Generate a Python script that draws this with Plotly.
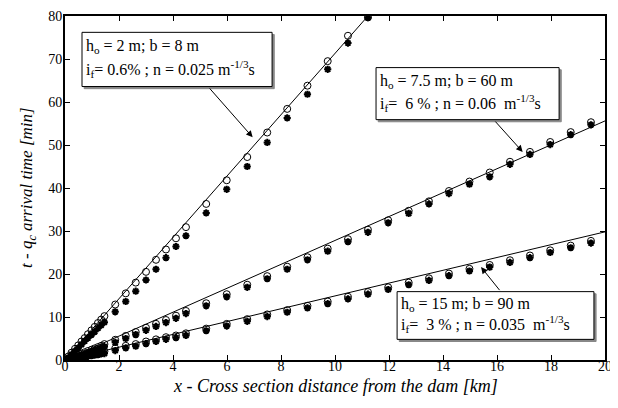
import plotly.graph_objects as go

# ---------------- data ----------------
x_sections = [0, 0.12, 0.24, 0.37, 0.49, 0.61, 0.73, 0.85, 0.98, 1.1, 1.22, 1.34, 1.46,
              1.86, 2.25, 2.62, 3.0, 3.37, 3.74, 4.11, 4.48, 5.23, 5.99, 6.75, 7.49,
              8.23, 8.98, 9.73, 10.48, 11.22, 11.97, 12.73, 13.48, 14.22, 14.98, 15.73,
              16.48, 17.22, 17.97, 18.73, 19.48]

# case 1: h0 = 2 m (only up to 11.22 km visible)
c1_circle = [0, 0.8, 1.7, 2.6, 3.4, 4.3, 5.1, 6.0, 6.9, 7.7, 8.6, 9.4, 10.2,
             12.9, 15.5, 18.0, 20.5, 23.3, 25.7, 28.3, 30.9, 36.3, 41.8, 47.2, 52.9,
             58.4, 63.8, 69.5, 75.4, 79.7]
c1_star = [0, 0.5, 1.3, 2.1, 2.8, 3.6, 4.4, 5.1, 5.9, 6.6, 7.4, 8.1, 8.8,
           11.2, 13.6, 16.0, 18.6, 21.1, 23.8, 26.4, 28.9, 34.2, 39.7, 45.0, 50.6,
           56.3, 61.8, 67.6, 73.7, 79.6]

# case 2: h0 = 7.5 m
c2_circle = [0, 0.3, 0.6, 0.9, 1.2, 1.5, 1.8, 2.1, 2.4, 2.7, 3.0, 3.3, 3.7,
             4.7, 5.6, 6.5, 7.5, 8.4, 9.3, 10.3, 11.4, 13.2, 15.3, 17.5, 19.5,
             21.7, 23.9, 25.9, 28.1, 30.3, 32.5, 34.7, 36.9, 39.3, 41.5, 43.6,
             46.1, 48.4, 50.7, 53.0, 55.3]
c2_star = [0, 0.2, 0.4, 0.7, 0.9, 1.2, 1.4, 1.7, 2.0, 2.2, 2.5, 2.8, 3.1,
           4.1, 5.0, 5.9, 6.9, 7.8, 8.7, 9.7, 10.8, 12.6, 14.7, 16.9, 18.9,
           21.1, 23.3, 25.3, 27.5, 29.7, 31.9, 34.1, 36.3, 38.7, 40.9, 42.6,
           45.5, 47.8, 50.1, 52.4, 54.7]

# case 3: h0 = 15 m
c3_circle = [0, 0.17, 0.34, 0.5, 0.67, 0.84, 1.0, 1.17, 1.34, 1.5, 1.67, 1.84, 2.0,
             2.7, 3.3, 3.7, 4.3, 4.8, 5.3, 5.7, 6.2, 7.3, 8.4, 9.5, 10.6,
             11.6, 12.6, 13.6, 14.7, 15.8, 16.9, 18.0, 19.0, 20.1, 21.2, 22.1,
             23.2, 24.3, 25.5, 26.6, 27.7]
c3_star = [0, 0.1, 0.2, 0.3, 0.45, 0.6, 0.7, 0.85, 1.0, 1.1, 1.25, 1.4, 1.5,
           2.2, 2.8, 3.2, 3.8, 4.3, 4.8, 5.2, 5.7, 6.8, 7.9, 9.0, 10.1,
           11.1, 12.1, 13.1, 14.2, 15.3, 16.4, 17.5, 18.5, 19.6, 20.7, 21.6,
           22.7, 23.8, 25.0, 26.1, 27.2]

# theoretical lines
fit_x = [0, 20]
fit1_y = [0, 142.6]
fit2_y = [0, 55.6]
fit3_y = [0, 29.8]

x_ticks = [0, 2, 4, 6, 8, 10, 12, 14, 16, 18, 20]
y_ticks = [0, 10, 20, 30, 40, 50, 60, 70, 80]

x_title = "x - Cross section distance from the dam [km]"
y_title = "t - q<sub>c</sub> arrival time [min]"

labels = [
    ("h<sub>o</sub> = 2 m; b = 8 m", "i<sub>f</sub>= 0.6% ; n = 0.025 m<sup>-1/3</sup>s"),
    ("h<sub>o</sub> = 7.5 m; b = 60 m", "i<sub>f</sub>=  6 % ; n = 0.06  m<sup>-1/3</sup>s"),
    ("h<sub>o</sub> = 15 m; b = 90 m", "i<sub>f</sub>=  3 % ; n = 0.035  m<sup>-1/3</sup>s"),
]

# ---------------- figure ----------------
FONT = "Liberation Serif"
fig = go.Figure()

for fy in (fit1_y, fit2_y, fit3_y):
    fig.add_trace(go.Scatter(x=fit_x, y=fy, mode="lines",
                             line=dict(color="black", width=1), hoverinfo="skip"))

n1 = len(c1_circle)
for xs, ys in ((x_sections[:n1], c1_star), (x_sections, c2_star), (x_sections, c3_star)):
    fig.add_trace(go.Scatter(x=xs, y=ys, mode="markers",
                             marker=dict(symbol="asterisk-open", size=6, color="black",
                                         line=dict(color="black", width=2))))
for xs, ys in ((x_sections[:n1], c1_circle), (x_sections, c2_circle), (x_sections, c3_circle)):
    fig.add_trace(go.Scatter(x=xs, y=ys, mode="markers",
                             marker=dict(symbol="circle-open", size=7, color="black",
                                         line=dict(color="black", width=1))))

# boxes (x0, x1, y0, y1 in data units)
boxes = [(0.63, 7.67, 63.6, 76.2), (11.52, 18.30, 55.9, 68.0), (12.30, 19.59, 4.8, 15.9)]
dx, dy = 0.08, 0.5
for (x0, x1, y0, y1), (l1, l2) in zip(boxes, labels):
    fig.add_shape(type="rect", x0=x0 + dx, x1=x1 + dx, y0=y0 - dy, y1=y1 - dy,
                  line=dict(color="#888", width=1), fillcolor="#888", layer="above")
    fig.add_shape(type="rect", x0=x0, x1=x1, y0=y0, y1=y1,
                  line=dict(color="black", width=1), fillcolor="white", layer="above")
    h = y1 - y0
    fig.add_annotation(x=x0 + 0.07, y=y1 - h * 0.27, text=l1, showarrow=False,
                       xanchor="left", yanchor="middle",
                       font=dict(family=FONT, size=16, color="black"))
    fig.add_annotation(x=x0 + 0.07, y=y1 - h * 0.68, text=l2, showarrow=False,
                       xanchor="left", yanchor="middle",
                       font=dict(family=FONT, size=16, color="black"))

# arrows (tail -> head)
arrows = [((5.31, 63.5), (6.95, 51.8)), ((15.89, 55.8), (16.95, 48.4)), ((16.14, 15.9), (15.41, 21.6))]
for (tx, ty), (hx, hy) in arrows:
    fig.add_annotation(x=hx, y=hy, ax=tx, ay=ty, axref="x", ayref="y", text="",
                       showarrow=True, arrowhead=2, arrowsize=1.3, arrowwidth=1,
                       arrowcolor="black", standoff=0)

# axis titles
fig.add_annotation(x=0.5, y=0, xref="paper", yref="paper", yshift=-14,
                   xanchor="center", yanchor="top", showarrow=False,
                   text="<i>" + x_title + "</i>",
                   font=dict(family=FONT, size=18, color="black"))
fig.add_annotation(x=0, y=0.5, xref="paper", yref="paper", xshift=-37,
                   xanchor="center", yanchor="middle", showarrow=False, textangle=-90,
                   text="<i>" + y_title + "</i>",
                   font=dict(family=FONT, size=17, color="black"))

# page body has an 8px margin: figure is shrunk by 8px so the plot lands in place
fig.update_layout(
    width=610, height=400,
    margin=dict(l=57, r=13, t=8, b=48),
    paper_bgcolor="white", plot_bgcolor="white",
    showlegend=False,
    font=dict(family=FONT, size=14, color="black"),
)
fig.update_xaxes(range=[0, 20], tickvals=x_ticks, ticks="inside", ticklen=5, tickwidth=1,
                 tickcolor="black", automargin=False, ticklabelstandoff=-8,
                 showline=True, linecolor="black", linewidth=2, mirror="allticks",
                 showgrid=False, zeroline=False,
                 tickfont=dict(family=FONT, size=14))
fig.update_yaxes(range=[0, 80], tickvals=y_ticks, ticks="inside", ticklen=5, tickwidth=1,
                 tickcolor="black", automargin=False, ticklabelstandoff=-2,
                 showline=True, linecolor="black", linewidth=2, mirror="allticks",
                 showgrid=False, zeroline=False,
                 tickfont=dict(family=FONT, size=14))

fig.write_html("out.html")
